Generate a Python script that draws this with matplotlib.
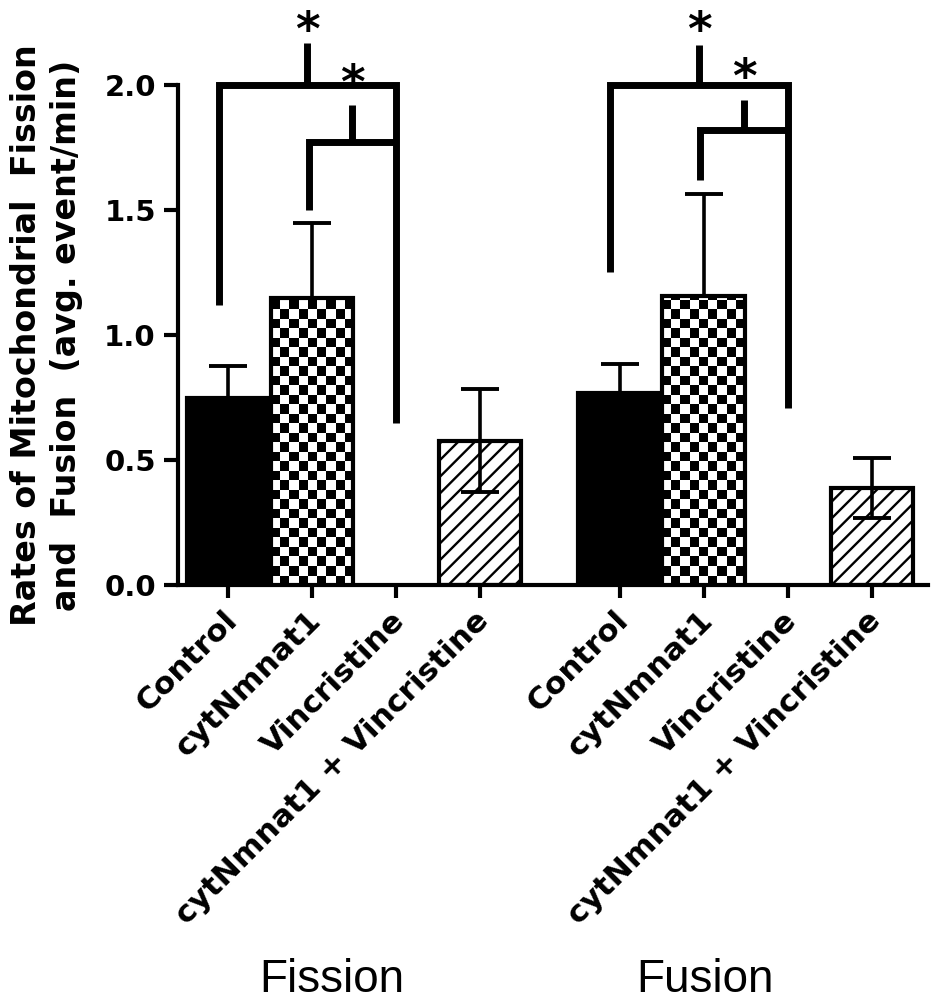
import numpy as np
import matplotlib
matplotlib.use("Agg")
import matplotlib.pyplot as plt
from matplotlib.transforms import ScaledTranslation, blended_transform_factory

# data
groups = ["Fission", "Fusion"]
conditions = ["Control", "cytNmnat1", "Vincristine", "cytNmnat1 + Vincristine"]
fission_mean = [0.75, 1.15, 0.0, 0.578]
fission_err = [0.125, 0.297, 0.0, 0.205]
fusion_mean = [0.77, 1.155, 0.0, 0.388]
fusion_err = [0.113, 0.408, 0.0, 0.12]

# significance brackets:
# (left cond, right cond, bar height, left leg end, right leg end, tick top, star height)
fission_sig = [(0, 2, 2.0, 1.12, 0.65, 2.17, 2.264), (1, 2, 1.77, 1.50, None, 1.92, 2.052)]
fusion_sig = [(0, 2, 2.0, 1.25, 0.71, 2.16, 2.264), (1, 2, 1.82, 1.62, None, 1.94, 2.076)]

BOLD = ["DejaVu Sans"]
REG = ["Liberation Sans", "DejaVu Sans"]
LW = 3.0
group_gap = 4.66
width = 0.98
styles = ["solid", "checker", "empty", "hatch"]

plt.rcParams["hatch.linewidth"] = 1.7

fig = plt.figure(figsize=(9.32, 10), dpi=100)
ax = fig.add_axes([178 / 932, 0.415, 750 / 932, 0.575])

means = [fission_mean, fusion_mean]
errs = [fission_err, fusion_err]
sigs = [fission_sig, fusion_sig]

xticks, xlabels = [], []
for g in range(len(groups)):
    pos = np.arange(len(conditions)) + g * group_gap
    xticks.extend(pos)
    xlabels.extend(conditions)
    for i, st in enumerate(styles):
        m, e = means[g][i], errs[g][i]
        if st == "solid":
            ax.bar(pos[i], m, width, color="black", edgecolor="black", linewidth=LW, zorder=3)
        elif st == "checker":
            bars = ax.bar(pos[i], m, width, facecolor="none", edgecolor="black", linewidth=LW, zorder=4)
            sq_y = 0.038
            ny = int(np.ceil(m / sq_y))
            jj, ii = np.indices((ny, 9))
            board = (ii + jj) % 2
            im = ax.imshow(board, cmap="gray_r", interpolation="nearest", aspect="auto",
                           origin="lower",
                           extent=[pos[i] - width / 2, pos[i] + width / 2, 0, ny * sq_y],
                           zorder=3)
            im.set_clip_path(bars[0])
        elif st == "hatch":
            ax.bar(pos[i], m, width, facecolor="white", edgecolor="black", linewidth=LW,
                   hatch="//", zorder=1)
        if e > 0:
            ax.errorbar(pos[i], m, yerr=e, fmt="none", ecolor="black", elinewidth=2.6,
                        capsize=14, capthick=2.8, zorder=2)

    # significance brackets
    for (a, b, h, lb, rb, tt, sy) in sigs[g]:
        xl = pos[a] - (0.11 if a == 0 else 0.04)
        xr = pos[b]
        xs = [xl, xl, xr]
        ys = [lb, h, h]
        if rb is not None:
            xs.append(xr)
            ys.append(rb)
        ax.plot(xs, ys, color="black", lw=5, solid_joinstyle="miter",
                solid_capstyle="butt", clip_on=False, zorder=5)
        xm = (xl + xr) / 2
        ax.plot([xm, xm], [h, tt], color="black", lw=5, solid_capstyle="butt",
                clip_on=False, zorder=5)
        ax.text(xm, sy - 0.104, "*", ha="center", va="baseline", fontsize=34,
                fontweight="bold", family=BOLD, clip_on=False)

ax.set_xlim(-0.595, 8.33)
ax.set_ylim(0, 2.3)

for s in ["top", "right"]:
    ax.spines[s].set_visible(False)
ax.spines["left"].set_bounds(0, 2.0)
ax.spines["left"].set_linewidth(LW)
ax.spines["bottom"].set_linewidth(LW)

ax.set_yticks([0, 0.5, 1.0, 1.5, 2.0])
ax.set_yticklabels(["0.0", "0.5", "1.0", "1.5", "2.0"], fontsize=21,
                   fontweight="bold", family=BOLD)
ax.tick_params(axis="y", length=10, width=LW, pad=6)

ax.set_xticks(xticks)
ax.set_xticklabels(xlabels, rotation=45, rotation_mode="anchor", ha="right", va="top",
                   fontsize=22.5, fontweight="bold", family=BOLD)
ax.tick_params(axis="x", length=9, width=LW, pad=6)
shift = ScaledTranslation(-4 / 72, 0, fig.dpi_scale_trans)
for lab in ax.get_xticklabels():
    lab.set_transform(lab.get_transform() + shift)

ax.set_ylabel("Rates of Mitochondrial  Fission\nand  Fusion  (avg. event/min)",
              fontsize=24, fontweight="bold", family=BOLD, linespacing=1.25)
ax.yaxis.label.set(va="center", ha="center")
ax.yaxis.set_label_coords(-0.175, 1.0 / 2.3)

# group names under the tick labels
tr = blended_transform_factory(ax.transData, fig.transFigure)
group_x = [1.24, 5.68]
for gx, name in zip(group_x, groups):
    ax.text(gx, 0.008, name, transform=tr, ha="center", va="baseline",
            fontsize=33, family=REG)

fig.savefig("out.png", dpi=100)
